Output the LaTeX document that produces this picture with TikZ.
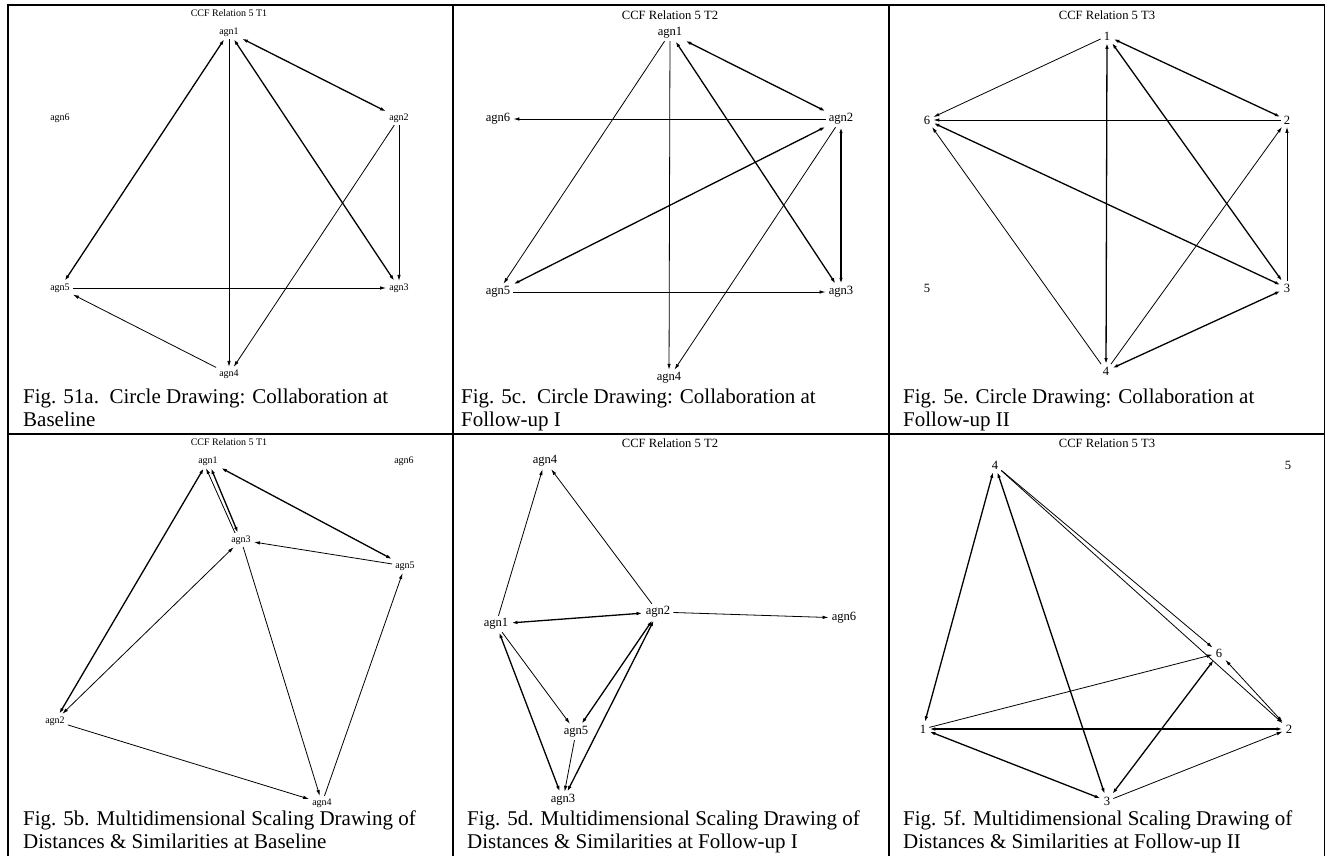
\documentclass[tikz,border=0pt]{standalone}
\usepackage{fontspec}
\setmainfont{Liberation Serif}
\usepackage{tikz}
\usetikzlibrary{arrows.meta}

\begin{document}
\begin{tikzpicture}[x=1pt,y=-1pt,
  lbl/.style={font=\fontsize{10}{12}\selectfont,inner xsep=3pt,inner ysep=2.5pt},
  lblbig/.style={font=\fontsize{12.6}{14}\selectfont,inner xsep=3pt,inner ysep=2.5pt},
  hdsmall/.style={font=\fontsize{10}{12}\selectfont,inner sep=0pt},
  hdbig/.style={font=\fontsize{12.6}{14}\selectfont,inner sep=0pt},
  figcap/.style={anchor=base west,inner sep=0pt,font=\fontsize{21}{22}\selectfont},
  tie/.style={-{Latex[length=6pt,width=3.5pt]},line width=0.8pt},
  mutual/.style={{Latex[length=6pt,width=3.5pt]}-{Latex[length=6pt,width=3.5pt]},line width=1.3pt},
  gridline/.style={line width=1.7pt}]
\useasboundingbox (0,0) rectangle (1327,856);
\fill[white] (0,0) rectangle (1327,856);

\draw[gridline] (7.7,856)--(7.7,5)--(1324.5,5)--(1324.5,856);
\draw[gridline] (453,5)--(453,856);
\draw[gridline] (889,5)--(889,856);
\draw[gridline] (7.7,434)--(1324.5,434);

% Fig. 51a
\node[hdsmall] (tA) at (229,13) {CCF Relation 5 T1};
\node[lbl] (A1) at (229,32) {agn1};
\node[lbl] (A2) at (399,118) {agn2};
\node[lbl] (A3) at (399,288) {agn3};
\node[lbl] (A4) at (229,374) {agn4};
\node[lbl] (A5) at (60,288) {agn5};
\node[lbl] (A6) at (60,118) {agn6};
\draw[mutual] (A1)--(A5);
\draw[tie] (A1)--(A4);
\draw[mutual] (A1)--(A3);
\draw[mutual] (A1)--(A2);
\draw[tie] (A2)--(A3);
\draw[tie] (A2)--(A4);
\draw[tie] (A5)--(A3);
\draw[tie] (A4)--(A5);
\node[figcap] (capA1) at (23,403) {Fig. 51a.\ \ Circle Drawing: Collaboration at};
\node[figcap] (capA2) at (23,426.5) {Baseline};

% Fig. 5c
\node[hdbig] (tC) at (670,15) {CCF Relation 5 T2};
\node[lblbig] (C1) at (670,33) {agn1};
\node[lblbig] (C2) at (841,119) {agn2};
\node[lblbig] (C3) at (841,292) {agn3};
\node[lblbig] (C4) at (669,378) {agn4};
\node[lblbig] (C5) at (498,292) {agn5};
\node[lblbig] (C6) at (498,119) {agn6};
\draw[tie] (C1)--(C5);
\draw[tie] (C1)--(C4);
\draw[mutual] (C1)--(C3);
\draw[mutual] (C1)--(C2);
\draw[tie] (C2)--(C6);
\draw[mutual] (C2)--(C5);
\draw[mutual] (C2)--(C3);
\draw[tie] (C2)--(C4);
\draw[tie] (C5)--(C3);
\node[figcap] (capC1) at (461,403) {Fig. 5c.\ \ Circle Drawing: Collaboration at};
\node[figcap] (capC2) at (461,426.5) {Follow-up I};

% Fig. 5e
\node[hdbig] (tE) at (1107,15) {CCF Relation 5 T3};
\node[lblbig] (E1) at (1107,36) {1};
\node[lblbig] (E2) at (1287,120) {2};
\node[lblbig] (E3) at (1287,288) {3};
\node[lblbig] (E4) at (1106,371) {4};
\node[lblbig] (E5) at (927,288) {5};
\node[lblbig] (E6) at (927,120) {6};
\draw[tie] (E1)--(E6);
\draw[mutual] (E1)--(E4);
\draw[mutual] (E1)--(E3);
\draw[mutual] (E1)--(E2);
\draw[tie] (E2)--(E6);
\draw[tie] (E3)--(E2);
\draw[mutual] (E3)--(E6);
\draw[tie] (E4)--(E6);
\draw[tie] (E4)--(E2);
\draw[mutual] (E4)--(E3);
\node[figcap] (capE1) at (903,403) {Fig. 5e. Circle Drawing: Collaboration at};
\node[figcap] (capE2) at (903,426.5) {Follow-up II};

% Fig. 5b
\node[hdsmall] (tB) at (229,442) {CCF Relation 5 T1};
\node[lbl] (B1) at (208,461) {agn1};
\node[lbl] (B2) at (55,721) {agn2};
\node[lbl] (B3) at (241,540) {agn3};
\node[lbl] (B4) at (322,803) {agn4};
\node[lbl] (B5) at (405,566) {agn5};
\node[lbl] (B6) at (404,461) {agn6};
\draw[mutual] (B1)--(B2);
\draw[mutual] (B1)--(B3);
\draw[tie] ([xshift=-6pt]B3.north)--([xshift=-2pt]B1.south);
\draw[mutual] (B1)--(B5);
\draw[mutual,line width=0.8pt] (B2)--(B3);
\draw[tie] (B5)--(B3);
\draw[tie] (B3)--(B4);
\draw[tie] (B2)--(B4);
\draw[tie] (B4)--(B5);
\node[figcap] (capB1) at (23,825) {Fig. 5b. Multidimensional Scaling Drawing of};
\node[figcap] (capB2) at (23,848) {Distances \& Similarities at Baseline};

% Fig. 5d
\node[hdbig] (tD) at (670,443) {CCF Relation 5 T2};
\node[lblbig] (D1) at (496,624) {agn1};
\node[lblbig] (D2) at (658,612) {agn2};
\node[lblbig] (D3) at (563,800) {agn3};
\node[lblbig] (D4) at (545,461) {agn4};
\node[lblbig] (D5) at (576,732) {agn5};
\node[lblbig] (D6) at (844,618) {agn6};
\draw[tie] (D1)--(D4);
\draw[tie] (D2)--(D4);
\draw[mutual] (D1)--(D2);
\draw[tie] (D2)--(D6);
\draw[tie] (D1)--(D5);
\draw[mutual] (D1)--(D3);
\draw[mutual] (D2)--(D5);
\draw[mutual] (D2)--(D3);
\draw[tie] (D5)--(D3);
\node[figcap] (capD1) at (467,825) {Fig. 5d. Multidimensional Scaling Drawing of};
\node[figcap] (capD2) at (467,848) {Distances \& Similarities at Follow-up I};

% Fig. 5f
\node[hdbig] (tF) at (1107,443) {CCF Relation 5 T3};
\node[lblbig] (F1) at (923,729) {1};
\node[lblbig] (F2) at (1289,729) {2};
\node[lblbig] (F3) at (1107,801) {3};
\node[lblbig] (F4) at (995,465) {4};
\node[lblbig] (F5) at (1288,465) {5};
\node[lblbig] (F6) at (1219,653) {6};
\draw[mutual] (F4)--(F1);
\draw[mutual] (F4)--(F3);
\draw[tie] (F4)--(F6);
\draw[tie] (F4)--(F2);
\draw[mutual,line width=0.8pt] (F2)--(F6);
\draw[tie] (F1)--(F6);
\draw[mutual] (F1)--(F2);
\draw[mutual] (F1)--(F3);
\draw[mutual] (F3)--(F6);
\draw[tie] (F3)--(F2);
\node[figcap] (capF1) at (903,825) {Fig. 5f. Multidimensional Scaling Drawing of};
\node[figcap] (capF2) at (903,848) {Distances \& Similarities at Follow-up II};
\end{tikzpicture}
\end{document}
